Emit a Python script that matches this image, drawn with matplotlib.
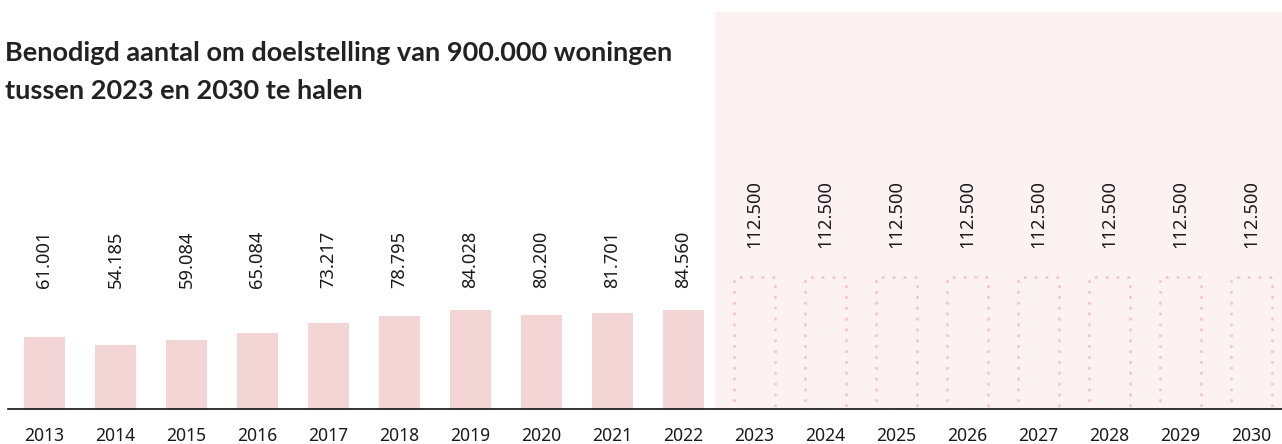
import matplotlib.pyplot as plt
import numpy as np

# data
years = [2013, 2014, 2015, 2016, 2017, 2018, 2019, 2020, 2021, 2022,
         2023, 2024, 2025, 2026, 2027, 2028, 2029, 2030]
realised = [61001, 54185, 59084, 65084, 73217, 78795, 84028, 80200, 81701, 84560]
needed = [112500] * 8
realised_labels = ['61.001', '54.185', '59.084', '65.084', '73.217',
                   '78.795', '84.028', '80.200', '81.701', '84.560']
needed_labels = ['112.500'] * 8
title = 'Benodigd aantal om doelstelling van 900.000 woningen\ntussen 2023 en 2030 te halen'

plt.rcParams['font.family'] = ['Noto Sans', 'DejaVu Sans']

bar_col = '#f2d5d4'
shade_col = '#fbf2f1'
dot_col = '#f3c9cc'
txt_col = '#1a1a1a'

fig = plt.figure(figsize=(12.82, 4.44), dpi=100)
ax = fig.add_axes([8/1282, 1 - 409/444, 1274/1282, 397/444])

x = np.arange(len(years))
n_hist = len(realised)
xh = x[:n_hist]
xp = x[n_hist:]

# shaded future area
ax.axvspan(n_hist - 0.5 - 0.05, x[-1] + 1, color=shade_col, lw=0, zorder=0)

ax.bar(xh, realised, width=0.58, color=bar_col, zorder=2)
ax.bar(xp, needed, width=0.57, fill=False, edgecolor=dot_col,
       linewidth=2.0, linestyle=(0, (1, 2.9)), zorder=2)

for xi, lab in zip(xh, realised_labels):
    ax.text(xi, 103000, lab, rotation=90, ha='center', va='bottom',
            fontsize=13.2, color=txt_col)
for xi, lab in zip(xp, needed_labels):
    ax.text(xi, 137000, lab, rotation=90, ha='center', va='bottom',
            fontsize=13.2, color=txt_col)

ax.set_xlim(-0.514, 17.43)
ax.set_ylim(0, 338000)
for s in ['top', 'right', 'left']:
    ax.spines[s].set_visible(False)
ax.spines['bottom'].set_linewidth(1.2)
ax.spines['bottom'].set_color('#111111')
ax.set_yticks([])
ax.set_xticks(x)
ax.set_xticklabels([str(y) for y in years], fontsize=12.6, color=txt_col)
ax.tick_params(axis='x', length=0, pad=13)

fig.text(5/1282, 1 - 41/444, title, fontsize=19.5, fontweight='bold',
         family=['Lato', 'DejaVu Sans'],
         color='#222222', va='top', ha='left', linespacing=1.72)

fig.savefig('out.png', dpi=100, facecolor='white')
